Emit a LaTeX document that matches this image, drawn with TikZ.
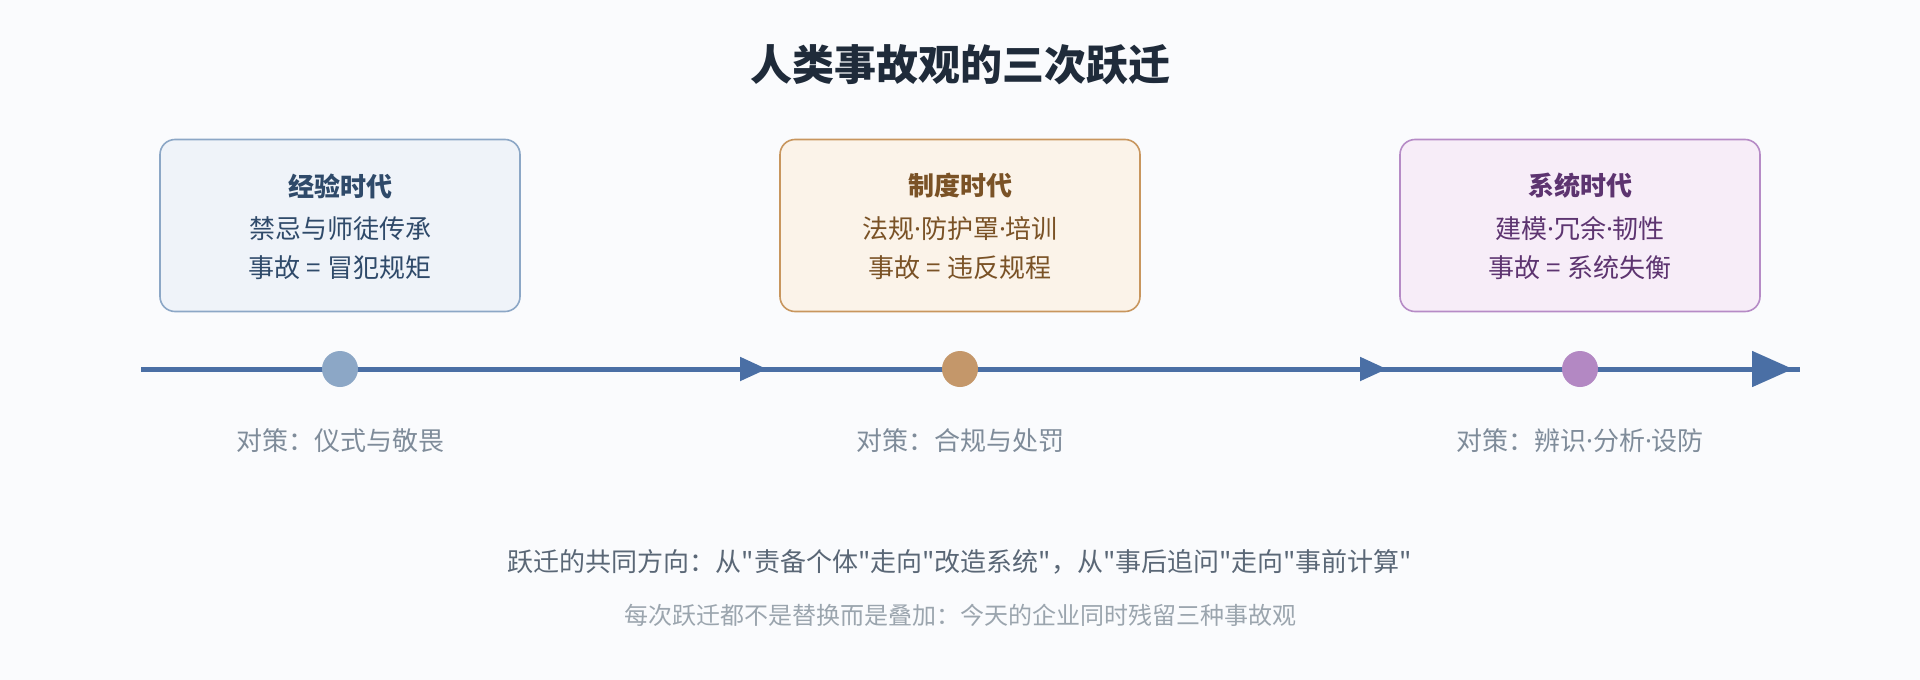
\documentclass[tikz,border=0pt]{standalone}
\usepackage{fontspec}
\setmainfont{Noto Sans CJK SC}
\newfontfamily\cjk{Noto Sans CJK SC}
\newfontfamily\lat{Noto Sans}
\newcommand\mydot{{\lat ·}}
\usetikzlibrary{arrows.meta}
\definecolor{bgc}{HTML}{FAFBFD}
\definecolor{titlec}{HTML}{1F2B3A}
\definecolor{axisc}{HTML}{4A6FA5}
\definecolor{fillA}{HTML}{EFF3F9}
\definecolor{drawA}{HTML}{8CA7C6}
\definecolor{textA}{HTML}{2F4A6A}
\definecolor{dotA}{HTML}{8CA7C6}
\definecolor{fillB}{HTML}{FBF3E9}
\definecolor{drawB}{HTML}{C8965E}
\definecolor{textB}{HTML}{7A5226}
\definecolor{dotB}{HTML}{C4976A}
\definecolor{fillC}{HTML}{F7EDF8}
\definecolor{drawC}{HTML}{B68BC6}
\definecolor{textC}{HTML}{5D3470}
\definecolor{dotC}{HTML}{B388C3}
\definecolor{measc}{HTML}{7F8C9A}
\definecolor{notec}{HTML}{5A6776}
\definecolor{subnotec}{HTML}{9BA5AE}
\tikzset{
  erabox/.style={draw=#1, line width=1.6pt, rounded corners=15pt, minimum width=360pt, minimum height=172pt, inner sep=0pt},
  eratitle/.style={text=#1, font=\cjk\fontsize{26}{30}\selectfont\bfseries, inner sep=0pt, anchor=center},
  eratext/.style={text=#1, font=\cjk\fontsize{26}{30}\selectfont, inner sep=0pt, anchor=center},
  dot/.style={circle, fill=#1, minimum size=36pt, inner sep=0pt},
  axis/.style={draw=axisc, line width=5pt},
  measure/.style={text=measc, font=\cjk\fontsize{26}{30}\selectfont, inner sep=0pt},
}
\begin{document}
\begin{tikzpicture}[x=1pt,y=-1pt]
\fill[bgc] (0,0) rectangle (1920,680);
\useasboundingbox (0,0) rectangle (1920,680);

\node[text=titlec, font=\cjk\fontsize{42}{48}\selectfont\bfseries, inner sep=0pt] (title) at (960,65) {人类事故观的三次跃迁};

% boxes
\node[erabox=drawA, fill=fillA] (boxA) at (340,225.5) {};
\node[erabox=drawB, fill=fillB] (boxB) at (960,225.5) {};
\node[erabox=drawC, fill=fillC] (boxC) at (1580,225.5) {};

\node[eratitle=textA] (tA) at (340,186) {经验时代};
\node[eratext=textA] (lA1) at (340,229) {禁忌与师徒传承};
\node[eratext=textA] (lA2) at (340,268) {事故 = 冒犯规矩};

\node[eratitle=textB] (tB) at (960,186) {制度时代};
\node[eratext=textB] (lB1) at (960,229) {法规\mydot 防护罩\mydot 培训};
\node[eratext=textB] (lB2) at (960,268) {事故 = 违反规程};

\node[eratitle=textC] (tC) at (1580,186) {系统时代};
\node[eratext=textC] (lC1) at (1580,229) {建模\mydot 冗余\mydot 韧性};
\node[eratext=textC] (lC2) at (1580,268) {事故 = 系统失衡};

% timeline
\coordinate (t0) at (141,369);
\coordinate (a1) at (767,369);
\coordinate (a2) at (1387,369);
\coordinate (a3) at (1793,369);
\coordinate (t3) at (1800,369);
\draw[axis] (t0) -- (t3);
\draw[axis, -{Triangle[length=27pt,width=23pt]}] (t0) -- (a1);
\draw[axis, -{Triangle[length=27pt,width=23pt]}] (a1) -- (a2);
\draw[axis, -{Triangle[length=41pt,width=35pt]}] (a2) -- (a3);

\node[dot=dotA] (cA) at (340,369) {};
\node[dot=dotB] (cB) at (960,369) {};
\node[dot=dotC] (cC) at (1580,369) {};

\node[measure] (mA) at (340,441) {对策：仪式与敬畏};
\node[measure] (mB) at (960,441) {对策：合规与处罚};
\node[measure] (mC) at (1580,441) {对策：辨识\mydot 分析\mydot 设防};

\node[text=notec, font=\cjk\fontsize{26}{30}\selectfont, inner sep=0pt] (note) at (960,562) {跃迁的共同方向：从"责备个体"走向"改造系统"，从"事后追问"走向"事前计算"};
\node[text=subnotec, font=\cjk\fontsize{24}{28}\selectfont, inner sep=0pt] (subnote) at (960,615) {每次跃迁都不是替换而是叠加：今天的企业同时残留三种事故观};
\end{tikzpicture}
\end{document}
